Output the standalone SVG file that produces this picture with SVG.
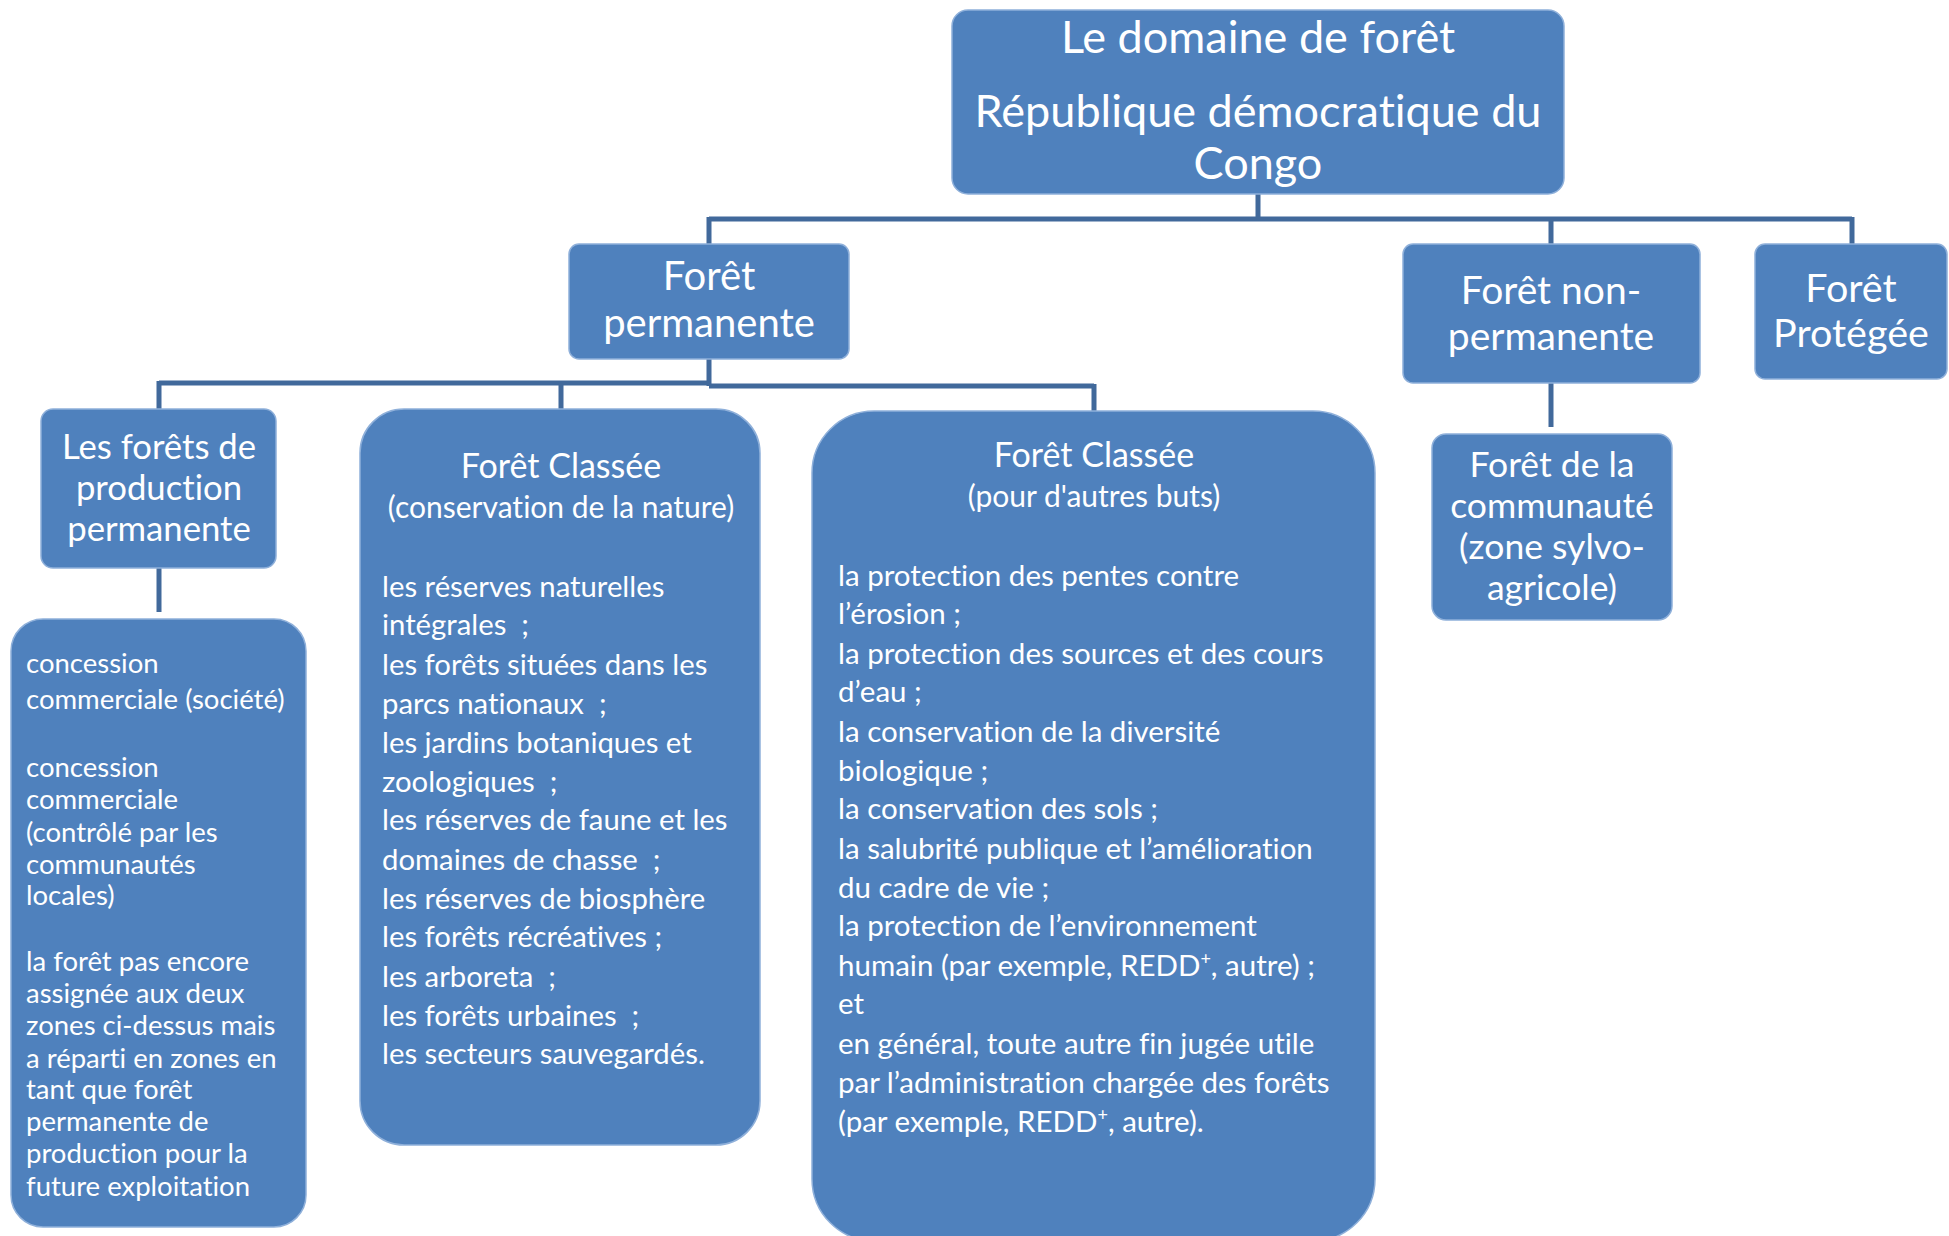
<svg xmlns="http://www.w3.org/2000/svg" width="1949" height="1236" viewBox="0 0 1949 1236">
<style>
.box{fill:#4F81BD;stroke:#8FB0DA;stroke-width:1.5}
.t{font-family:Lato,"Open Sans","Liberation Sans",sans-serif;fill:#ffffff;font-variant-ligatures:none}
.c{text-anchor:middle}
.conn{fill:none;stroke:#41699B;stroke-width:5;stroke-linejoin:miter}
</style>
<rect width="1949" height="1236" fill="#ffffff"/>
<g id="connectors">
<path class="conn" d="M1258 194V219M709 219H1852M709 217V244M1551 219V244M1852 217V244"/>
<path class="conn" d="M709 359V386M159 383H709M709 386H1094M159 381V409M561 381V409M1094 384V411"/>
<path class="conn" d="M159 568V612"/>
<path class="conn" d="M1551 383V427"/>
</g>
<g id="root">
<rect class="box" x="952" y="10" width="612" height="184" rx="16"/>
<text class="t c" font-size="45"><tspan x="1258" y="53">Le domaine de forêt</tspan><tspan x="1258" y="127">République démocratique du</tspan><tspan x="1258" y="179">Congo</tspan></text>
</g>
<g id="foret-permanente">
<rect class="box" x="569" y="244" width="280" height="115" rx="10"/>
<text class="t c" font-size="40"><tspan x="709" y="290">Forêt</tspan><tspan x="709" y="337">permanente</tspan></text>
</g>
<g id="foret-non-permanente">
<rect class="box" x="1403" y="244" width="297" height="139" rx="10"/>
<text class="t c" font-size="39"><tspan x="1551" y="304">Forêt non-</tspan><tspan x="1551" y="350">permanente</tspan></text>
</g>
<g id="foret-protegee">
<rect class="box" x="1755" y="244" width="192" height="135" rx="10"/>
<text class="t c" font-size="39.5"><tspan x="1851" y="302">Forêt</tspan><tspan x="1851" y="347">Protégée</tspan></text>
</g>
<g id="foret-communaute">
<rect class="box" x="1432" y="434" width="240" height="186" rx="14"/>
<text class="t c" font-size="35.5"><tspan x="1552" y="477">Forêt de la</tspan><tspan x="1552" y="518">communauté</tspan><tspan x="1552" y="559">(zone sylvo-</tspan><tspan x="1552" y="600">agricole)</tspan></text>
</g>
<g id="forets-production">
<rect class="box" x="41" y="409" width="235" height="159" rx="12"/>
<text class="t c" font-size="34.7"><tspan x="159" y="459">Les forêts de</tspan><tspan x="159" y="500">production</tspan><tspan x="159" y="541">permanente</tspan></text>
</g>
<g id="production-detail">
<rect class="box" x="11" y="619" width="295" height="608" rx="32"/>
<text class="t" font-size="27.5"><tspan x="26" y="673">concession</tspan><tspan x="26" y="709">commerciale (société)</tspan><tspan x="26" y="777">concession</tspan><tspan x="26" y="809">commerciale</tspan><tspan x="26" y="842">(contrôlé par les</tspan><tspan x="26" y="874">communautés</tspan><tspan x="26" y="905">locales)</tspan><tspan x="26" y="971">la forêt pas encore</tspan><tspan x="26" y="1003">assignée aux deux</tspan><tspan x="26" y="1035">zones ci-dessus mais</tspan><tspan x="26" y="1068">a réparti en zones en</tspan><tspan x="26" y="1099">tant que forêt</tspan><tspan x="26" y="1131">permanente de</tspan><tspan x="26" y="1163">production pour la</tspan><tspan x="26" y="1196">future exploitation</tspan></text>
</g>
<g id="classee-nature">
<rect class="box" x="360" y="409" width="400" height="736" rx="44"/>
<text class="t c" font-size="34" x="561" y="478">Forêt Classée</text>
<text class="t c" font-size="30" x="561" y="518">(conservation de la nature)</text>
<text class="t" font-size="29.3" xml:space="preserve"><tspan x="382" y="597">les réserves naturelles</tspan><tspan x="382" y="635">intégrales  ;</tspan><tspan x="382" y="675">les forêts situées dans les</tspan><tspan x="382" y="714">parcs nationaux  ;</tspan><tspan x="382" y="753">les jardins botaniques et</tspan><tspan x="382" y="792">zoologiques  ;</tspan><tspan x="382" y="830">les réserves de faune et les</tspan><tspan x="382" y="870">domaines de chasse  ;</tspan><tspan x="382" y="909">les réserves de biosphère</tspan><tspan x="382" y="947">les forêts récréatives ;</tspan><tspan x="382" y="987">les arboreta  ;</tspan><tspan x="382" y="1026">les forêts urbaines  ;</tspan><tspan x="382" y="1064">les secteurs sauvegardés.</tspan></text>
</g>
<g id="classee-autres">
<rect class="box" x="812" y="411" width="563" height="830" rx="62"/>
<text class="t c" font-size="34" x="1094" y="467">Forêt Classée</text>
<text class="t c" font-size="30" x="1094" y="507">(pour d'autres buts)</text>
<text class="t" font-size="29.5"><tspan x="838" y="586">la protection des pentes contre</tspan><tspan x="838" y="624">l’érosion ;</tspan><tspan x="838" y="664">la protection des sources et des cours</tspan><tspan x="838" y="702">d’eau ;</tspan><tspan x="838" y="742">la conservation de la diversité</tspan><tspan x="838" y="781">biologique ;</tspan><tspan x="838" y="819">la conservation des sols ;</tspan><tspan x="838" y="859">la salubrité publique et l’amélioration</tspan><tspan x="838" y="898">du cadre de vie ;</tspan><tspan x="838" y="936">la protection de l’environnement</tspan><tspan x="838" y="976">humain (par exemple, REDD<tspan font-size="18" dy="-11">+</tspan><tspan dy="11">, autre) ;</tspan></tspan><tspan x="838" y="1014">et</tspan><tspan x="838" y="1054">en général, toute autre fin jugée utile</tspan><tspan x="838" y="1093">par l’administration chargée des forêts</tspan><tspan x="838" y="1132">(par exemple, REDD<tspan font-size="18" dy="-11">+</tspan><tspan dy="11">, autre).</tspan></tspan></text>
</g>
</svg>
